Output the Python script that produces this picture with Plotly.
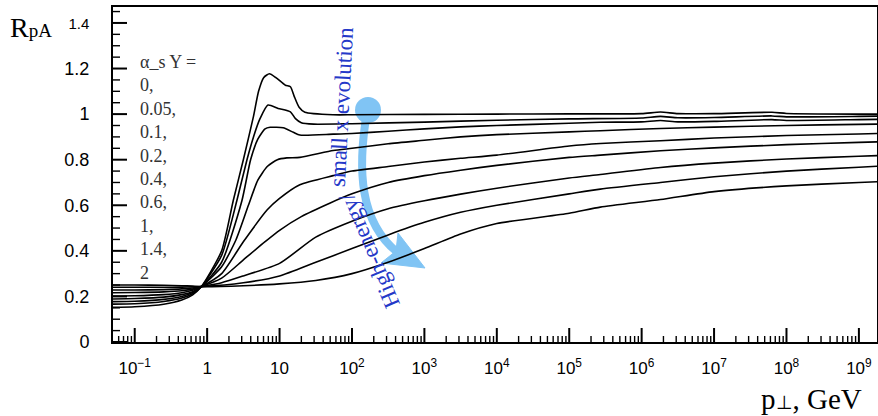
import math
import plotly.graph_objects as go

# ---------------- data (log10 of p_perp [GeV] and R_pA) ----------------
Y_labels = ["0", "0.05", "0.1", "0.2", "0.4", "0.6", "1", "1.4", "2"]

e_Y0 = [-1.3, -1.0, -0.6, -0.35, -0.2, -0.08, 0.2, 0.36, 0.5, 0.64, 0.71, 0.78, 0.86, 0.95, 1.08, 1.15, 1.2, 1.27, 1.35, 1.74, 2.0, 3.0, 4.0, 5.0, 6.0, 6.26, 6.5, 7.0, 7.8, 8.0, 9.0, 9.25]
r_Y0 = [0.152, 0.155, 0.166, 0.184, 0.207, 0.243, 0.40, 0.62, 0.80, 0.99, 1.10, 1.16, 1.177, 1.16, 1.127, 1.12, 1.08, 1.03, 1.008, 0.997, 0.997, 0.999, 1.0, 1.001, 1.002, 1.009, 1.002, 1.002, 1.008, 1.003, 1.0, 1.0]

e_Y005 = [-1.3, -1.0, -0.6, -0.35, -0.2, -0.08, 0.2, 0.41, 0.55, 0.64, 0.73, 0.84, 0.98, 1.15, 1.22, 1.3, 1.47, 2.0, 3.0, 4.0, 5.0, 6.0, 6.26, 6.5, 7.0, 7.8, 8.0, 9.0, 9.25]
r_Y005 = [0.166, 0.168, 0.178, 0.193, 0.212, 0.243, 0.38, 0.62, 0.80, 0.90, 0.98, 1.04, 1.025, 1.01, 0.98, 0.962, 0.956, 0.958, 0.965, 0.973, 0.979, 0.983, 0.99, 0.984, 0.985, 0.992, 0.988, 0.990, 0.991]

e_Y01 = [-1.3, -1.0, -0.6, -0.35, -0.2, -0.08, 0.2, 0.48, 0.6, 0.7, 0.8, 0.87, 1.05, 1.19, 1.28, 1.74, 2.0, 2.5, 3.0, 3.5, 4.0, 5.0, 5.43, 6.0, 6.26, 6.5, 7.0, 7.8, 8.0, 9.0, 9.25]
r_Y01 = [0.177, 0.179, 0.187, 0.200, 0.217, 0.243, 0.35, 0.62, 0.80, 0.89, 0.935, 0.942, 0.94, 0.92, 0.908, 0.912, 0.915, 0.925, 0.935, 0.944, 0.95, 0.96, 0.964, 0.966, 0.972, 0.966, 0.968, 0.976, 0.972, 0.976, 0.977]

e_Y02 = [-1.3, -1.0, -0.6, -0.35, -0.2, -0.08, 0.2, 0.4, 0.57, 0.7, 0.83, 0.97, 1.1, 1.28, 1.74, 2.0, 2.5, 3.0, 3.5, 4.0, 5.0, 5.43, 6.26, 7.0, 8.0, 9.0, 9.25]
r_Y02 = [0.189, 0.191, 0.197, 0.208, 0.221, 0.243, 0.33, 0.45, 0.60, 0.71, 0.77, 0.80, 0.808, 0.81, 0.84, 0.85, 0.87, 0.885, 0.900, 0.91, 0.922, 0.927, 0.937, 0.943, 0.95, 0.955, 0.956]

e_Y04 = [-1.3, -1.0, -0.6, -0.35, -0.2, -0.08, 0.2, 0.5, 0.83, 1.0, 1.28, 1.74, 2.0, 2.5, 3.0, 3.5, 4.0, 5.0, 5.43, 6.26, 7.0, 8.0, 9.0, 9.25]
r_Y04 = [0.202, 0.203, 0.208, 0.216, 0.227, 0.243, 0.30, 0.44, 0.58, 0.63, 0.69, 0.73, 0.75, 0.77, 0.79, 0.806, 0.82, 0.86, 0.871, 0.883, 0.895, 0.906, 0.913, 0.915]

e_Y06 = [-1.3, -1.0, -0.6, -0.35, -0.2, -0.08, 0.2, 0.5, 0.8, 1.0, 1.3, 1.7, 2.0, 2.5, 3.0, 3.5, 4.0, 5.0, 5.43, 6.26, 7.0, 8.0, 9.0, 9.25]
r_Y06 = [0.216, 0.217, 0.220, 0.225, 0.232, 0.243, 0.28, 0.36, 0.44, 0.49, 0.55, 0.61, 0.65, 0.70, 0.73, 0.754, 0.775, 0.81, 0.82, 0.839, 0.852, 0.866, 0.876, 0.878]

e_Y1 = [-1.3, -1.0, -0.6, -0.35, -0.2, -0.08, 0.2, 0.5, 1.0, 1.5, 2.0, 2.5, 3.0, 3.5, 4.0, 5.0, 5.43, 6.26, 7.0, 8.0, 9.0, 9.25]
r_Y1 = [0.228, 0.228, 0.230, 0.233, 0.237, 0.243, 0.26, 0.29, 0.345, 0.46, 0.53, 0.585, 0.62, 0.649, 0.675, 0.72, 0.735, 0.766, 0.785, 0.803, 0.815, 0.818]

e_Y14 = [-1.3, -1.0, -0.6, -0.35, -0.2, -0.08, 0.5, 1.0, 1.5, 2.0, 2.5, 3.0, 3.5, 4.0, 5.0, 5.43, 6.26, 7.0, 8.0, 9.0, 9.25]
r_Y14 = [0.240, 0.240, 0.240, 0.241, 0.242, 0.243, 0.26, 0.29, 0.35, 0.41, 0.47, 0.525, 0.569, 0.60, 0.65, 0.671, 0.70, 0.725, 0.75, 0.767, 0.771]

e_Y2 = [-1.3, -1.0, -0.6, -0.35, -0.2, -0.08, 0.5, 1.0, 1.5, 2.0, 2.5, 3.0, 3.5, 4.0, 5.0, 5.43, 6.26, 7.0, 8.0, 9.0, 9.25]
r_Y2 = [0.250, 0.250, 0.249, 0.247, 0.245, 0.243, 0.247, 0.255, 0.27, 0.30, 0.35, 0.41, 0.474, 0.52, 0.565, 0.592, 0.625, 0.66, 0.685, 0.70, 0.703]

series = [(e_Y0, r_Y0), (e_Y005, r_Y005), (e_Y01, r_Y01), (e_Y02, r_Y02), (e_Y04, r_Y04),
          (e_Y06, r_Y06), (e_Y1, r_Y1), (e_Y14, r_Y14), (e_Y2, r_Y2)]

x_tickvals = [0.1, 1, 10, 1e2, 1e3, 1e4, 1e5, 1e6, 1e7, 1e8, 1e9]
x_ticktext = ["10<sup>−1</sup>", "1", "10"] + ["10<sup>%d</sup>" % k for k in range(2, 10)]
x_minor = [m * 10.0 ** d for d in range(-2, 10) for m in range(2, 10)]
y_tickvals = [0, 0.2, 0.4, 0.6, 0.8, 1.0, 1.2, 1.4]
y_ticktext = ["0", "0.2", "0.4", "0.6", "0.8", "1", "1.2", "<span style='font-size:15px'>1.4</span>"]
y_minor = [round(0.05 * k, 2) for k in range(1, 30) if k % 4 != 0]

X_RANGE = [-1.30, 9.25]
Y_RANGE = [0, 1.47]

L, R, T, B = 113, 877, 7, 342
W, H = 878, 416

# ---------------- figure ----------------
fig = go.Figure()
for (e, r), lab in zip(series, Y_labels):
    fig.add_trace(go.Scatter(
        x=[10 ** v for v in e], y=r, mode="lines", name="Y=" + lab,
        line=dict(color="black", width=1.6, shape="spline", smoothing=0.6),
        showlegend=False, hoverinfo="skip"))

def px(x):
    return (x - L) / (R - L)

def py(y):
    return (B - y) / (B - T)

def xpaper(v):
    return (math.log10(v) - X_RANGE[0]) / (X_RANGE[1] - X_RANGE[0])

def ypaper(v):
    return (v - Y_RANGE[0]) / (Y_RANGE[1] - Y_RANGE[0])

blue_arrow = "#80c4f4"
shapes = [
    dict(type="path", xref="paper", yref="paper", layer="below",
         path="M %f,%f C %f,%f %f,%f %f,%f" % (px(367), py(112), px(357), py(170), px(360), py(222), px(397), py(252)),
         line=dict(color=blue_arrow, width=8)),
    dict(type="path", xref="paper", yref="paper", layer="below",
         path="M %f,%f L %f,%f L %f,%f L %f,%f Z" % (px(425), py(268), px(381), py(263), px(396), py(251), px(398), py(233)),
         fillcolor=blue_arrow, line=dict(color=blue_arrow, width=1)),
    dict(type="circle", xref="paper", yref="paper", layer="below",
         x0=px(355), x1=px(381), y0=py(123), y1=py(97),
         fillcolor=blue_arrow, line=dict(color=blue_arrow, width=0)),
]

# inside tick marks, positioned from the tick values through the axis ranges (paper units)
for v in x_minor:
    xp = xpaper(v)
    if 0 < xp < 1:
        shapes.append(dict(type="line", xref="paper", yref="paper", layer="above",
                           x0=xp, x1=xp, y0=0, y1=6 / (B - T), line=dict(color="black", width=1.4)))
for v in x_tickvals:
    xp = xpaper(v)
    shapes.append(dict(type="line", xref="paper", yref="paper", layer="above",
                       x0=xp, x1=xp, y0=0, y1=14 / (B - T), line=dict(color="black", width=2)))
for v in y_minor:
    yp = ypaper(v)
    if 0 < yp < 1:
        shapes.append(dict(type="line", xref="paper", yref="paper", layer="above",
                           x0=0, x1=7 / (R - L), y0=yp, y1=yp, line=dict(color="black", width=1.4)))
for v in y_tickvals:
    yp = ypaper(v)
    shapes.append(dict(type="line", xref="paper", yref="paper", layer="above",
                       x0=0, x1=14 / (R - L), y0=yp, y1=yp, line=dict(color="black", width=2)))

annotations = [
    dict(xref="paper", yref="paper", x=px(8), y=py(10), xanchor="left", yanchor="top",
         text="R<span style='font-size:19px'>pA</span>", showarrow=False,
         font=dict(family="Liberation Serif", size=28, color="black")),
    dict(xref="paper", yref="paper", x=px(864), y=py(381), xanchor="right", yanchor="top",
         text="p<span style='font-size:19px'>⊥</span>, GeV", showarrow=False,
         font=dict(family="Liberation Serif", size=29, color="black")),
    dict(xref="paper", yref="paper", x=px(138), y=py(50), xanchor="left", yanchor="top",
         align="left", showarrow=False,
         text="α_s Y =<br>" + "<br>".join([l + "," for l in Y_labels[:-1]] + [Y_labels[-1]]),
         font=dict(family="Liberation Serif", size=18, color="#333333")),
    dict(xref="paper", yref="paper", x=px(342), y=py(107), xanchor="center", yanchor="middle",
         text="small x evolution", showarrow=False, textangle=-87,
         font=dict(family="Liberation Serif", size=23, color="#2438c8")),
    dict(xref="paper", yref="paper", x=px(369), y=py(251), xanchor="center", yanchor="middle",
         text="High-energy/", showarrow=False, textangle=-113,
         font=dict(family="Liberation Serif", size=23, color="#2438c8")),
]

fig.update_layout(
    width=W, height=H,
    margin=dict(l=L, r=W - R, t=T, b=H - B, autoexpand=False),
    paper_bgcolor="white", plot_bgcolor="white",
    shapes=shapes, annotations=annotations,
    xaxis=dict(type="log", range=X_RANGE, showgrid=False, zeroline=False, automargin=False,
               showline=True, linecolor="black", linewidth=2, mirror=True,
               tickmode="array", tickvals=x_tickvals, ticktext=x_ticktext, ticks="",
               tickfont=dict(family="Liberation Sans", size=17, color="black"),
               ticklabelstandoff=10),
    yaxis=dict(range=Y_RANGE, showgrid=False, zeroline=False, automargin=False,
               showline=True, linecolor="black", linewidth=2, mirror=True,
               tickmode="array", tickvals=y_tickvals, ticktext=y_ticktext, ticks="",
               tickfont=dict(family="Liberation Sans", size=18, color="black"),
               ticklabelstandoff=18),
)

fig.write_html("out.html", config={"displayModeBar": False},
               post_script="document.body.style.margin='0px';document.body.style.padding='0px';")
